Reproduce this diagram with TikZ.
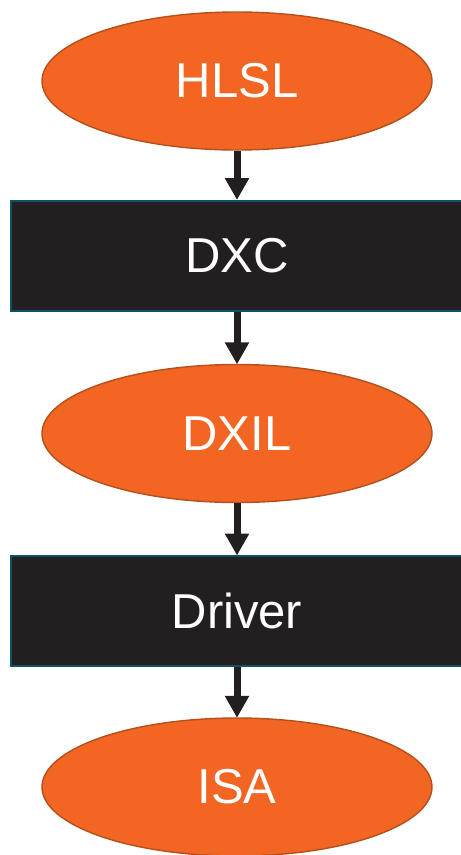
\documentclass[tikz,border=0pt]{standalone}
\usepackage{fontspec}
\setmainfont{Liberation Sans}
\usetikzlibrary{shapes.geometric,arrows.meta}
\definecolor{stageorange}{HTML}{F26522}
\definecolor{stageedge}{HTML}{B4501C}
\definecolor{toolfill}{HTML}{231F20}
\definecolor{tooledge}{HTML}{0B5468}
\tikzset{
  x=1pt, y=-1pt,
  stage/.style={ellipse, draw=stageedge, line width=1.4pt, fill=stageorange,
    minimum width=390pt, minimum height=138pt, inner sep=0pt,
    text=white, font=\fontsize{49}{52}\selectfont},
  tool/.style={rectangle, draw=tooledge, line width=2pt, fill=toolfill,
    minimum width=452pt, minimum height=110pt, inner sep=0pt,
    text=white, font=\fontsize{49}{52}\selectfont},
  flow/.style={draw=toolfill, line width=7pt,
    -{Triangle[width=23pt,length=22pt]}, shorten >=-0.5pt}
}
\begin{document}
\begin{tikzpicture}
  \useasboundingbox (0,0) rectangle (461,855);
  \begin{scope}
    \clip (0,0) rectangle (461,855);
    \node[stage] (hlsl) at (237,81) {HLSL};
    \node[tool] (dxc) at (237,255.5) {DXC};
    \node[stage] (dxil) at (237,433.5) {DXIL};
    \node[tool] (driver) at (237,611) {Driver};
    \node[stage] (isa) at (237,787) {ISA};
    \draw[flow] (hlsl.south) -- (dxc.north);
    \draw[flow] (dxc.south) -- (dxil.north);
    \draw[flow] (dxil.south) -- (driver.north);
    \draw[flow] (driver.south) -- (isa.north);
  \end{scope}
\end{tikzpicture}
\end{document}
